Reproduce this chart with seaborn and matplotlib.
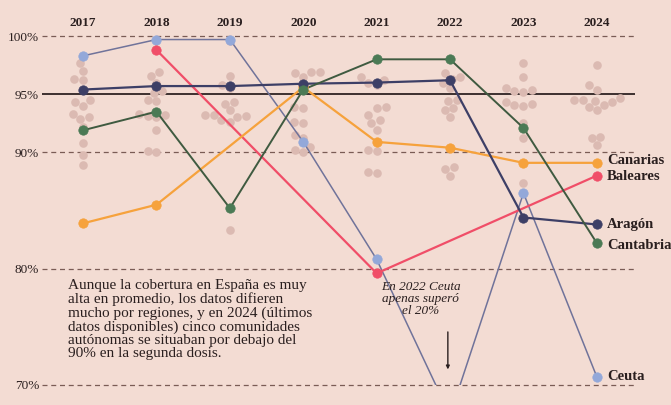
import numpy as np
import pandas as pd
import matplotlib.pyplot as plt
import seaborn as sns
from matplotlib.patches import Rectangle

# Datos: cobertura segunda dosis (%) por año
years = [2017, 2018, 2019, 2020, 2021, 2022, 2023, 2024]
ceuta = [98.3, 99.7, 99.7, 90.9, 80.8, 67.4, 86.5, 70.7]
baleares = [np.nan, 98.8, np.nan, np.nan, 79.6, np.nan, np.nan, 88.0]
canarias = [83.9, 85.5, np.nan, 95.6, 90.9, 90.4, 89.1, 89.1]
aragon = [95.4, 95.7, 95.7, 95.9, 96.0, 96.2, 84.4, 83.8]
cantabria = [91.9, 93.5, 85.2, 95.4, 98.0, 98.0, 92.1, 82.2]

# Resto de comunidades (puntos de fondo)
others = {
    2017: [97.7, 97.0, 96.3, 96.2, 94.5, 94.3, 94.0, 93.0, 92.9, 92.2, 90.8, 89.8, 88.9, 93.3],
    2018: [96.9, 96.6, 96.0, 95.1, 94.5, 93.2, 93.0, 93.3, 93.1, 91.9, 90.0, 90.1, 94.4, 95.3],
    2019: [99.6, 96.6, 95.8, 95.5, 94.3, 94.2, 93.6, 93.2, 93.2, 93.1, 93.0, 92.6, 92.8, 83.3],
    2020: [96.8, 96.5, 96.9, 95.4, 93.9, 93.8, 92.6, 92.5, 91.5, 91.2, 90.5, 90.2, 90.0, 96.9],
    2021: [96.5, 96.0, 95.8, 93.9, 93.8, 93.2, 92.8, 92.5, 91.9, 90.2, 90.1, 88.3, 88.2, 96.2],
    2022: [96.5, 96.8, 96.0, 95.5, 94.5, 94.4, 93.6, 93.8, 93.0, 90.4, 88.7, 88.6, 88.0, 96.3],
    2023: [97.7, 96.5, 95.4, 95.3, 95.2, 95.5, 94.3, 94.2, 94.1, 94.0, 92.5, 91.2, 87.4, 86.5],
    2024: [97.5, 95.8, 95.4, 94.5, 94.4, 94.3, 94.5, 94.7, 94.1, 93.9, 93.6, 91.2, 91.3, 90.6],
}

regions = ['Ceuta', 'Baleares', 'Canarias', 'Aragón', 'Cantabria']
series = [ceuta, baleares, canarias, aragon, cantabria]
dot_colors = ['#93a8d9', '#f04e68', '#f6a23c', '#3d3f66', '#4b7a55']
line_colors = ['#70739a', '#f04e68', '#f6a23c', '#3d3f66', '#3f5a40']
line_widths = [1.1, 1.6, 1.6, 1.6, 1.4]

bg = pd.DataFrame([(y, v) for y, vals in others.items() for v in vals], columns=['year', 'value'])

paper = '#f3dcd3'
ink = '#2a1f1f'
fig = plt.figure(figsize=(6.71, 4.05), dpi=100, facecolor=paper)
ax = fig.add_axes([42 / 671, 5 / 405, (635 - 42) / 671, (375 - 5) / 405])
ax.set_facecolor(paper)
ax.set_xlim(2016.44, 2024.52)
ax.set_ylim(68.71, 100.52)

# Puntos de fondo
sns.swarmplot(data=bg, x='year', y='value', native_scale=True, orient='x',
              size=6.2, color='#dbbab2', ax=ax, zorder=2, warn_thresh=1)

# Líneas de referencia
for lvl in [100, 90, 80, 70]:
    ax.axhline(lvl, color='#7a5c55', lw=0.9, ls=(0, (4, 3)), zorder=1)
ax.axhline(95, color='#2e2222', lw=1.3, zorder=1)

clip = Rectangle((2016, 70), 10, 40, transform=ax.transData)
for name, vals, dc, lc, lw in zip(regions, series, dot_colors, line_colors, line_widths):
    df = pd.DataFrame({'year': years, 'value': vals}).dropna()
    sns.lineplot(data=df, x='year', y='value', color=lc, lw=lw, ax=ax, zorder=3)
    ax.lines[-1].set_clip_path(clip)
    sns.scatterplot(data=df[df['value'] >= 70], x='year', y='value', color=dc, s=46,
                    edgecolor=dc, linewidth=0.5, ax=ax, zorder=4)

# Etiquetas de las comunidades
label_y = [ceuta[-1], baleares[-1], canarias[-1], aragon[-1], cantabria[-1]]
offsets = [0, -0.1, 0.2, 0.0, -0.2]
for name, yv, off in zip(regions, label_y, offsets):
    ax.text(2024.14, yv + off, name, fontsize=10.5, fontweight='bold', family='Liberation Serif',
            color=ink, va='center', ha='left', clip_on=False)

# Ejes
ax.xaxis.tick_top()
ax.set_xticks(years)
ax.set_xticklabels([str(y) for y in years], fontsize=9.5, fontweight='bold',
                   family='Liberation Serif', color=ink)
ax.set_yticks([100, 95, 90, 80, 70])
ax.set_yticklabels(['100%', '95%', '90%', '80%', '70%'], fontsize=9.5,
                   family='Liberation Serif', color=ink)
ax.tick_params(length=0, pad=2)
ax.tick_params(axis='x', pad=1)
ax.set_xlabel('')
ax.set_ylabel('')
for s in ax.spines.values():
    s.set_visible(False)
ax.grid(False)

# Textos
ax.text(2016.8, 79.1, 'Aunque la cobertura en España es muy\nalta en promedio, los datos difieren\n'
        'mucho por regiones, y en 2024 (últimos\ndatos disponibles) cinco comunidades\n'
        'autónomas se situaban por debajo del\n90% en la segunda dosis.',
        fontsize=11, family='Liberation Serif', color=ink, va='top', ha='left',
        linespacing=1.02)
ax.text(2021.6, 78.9, 'En 2022 Ceuta\napenas superó\nel 20%', fontsize=9.5, style='italic',
        family='Liberation Serif', color=ink, va='top', ha='center', linespacing=1.0)
ax.annotate('', xy=(2021.97, 71.1), xytext=(2021.97, 74.8),
            arrowprops=dict(arrowstyle='-|>', color=ink, lw=1, mutation_scale=5))

fig.savefig('out.png', dpi=100, facecolor=paper)
